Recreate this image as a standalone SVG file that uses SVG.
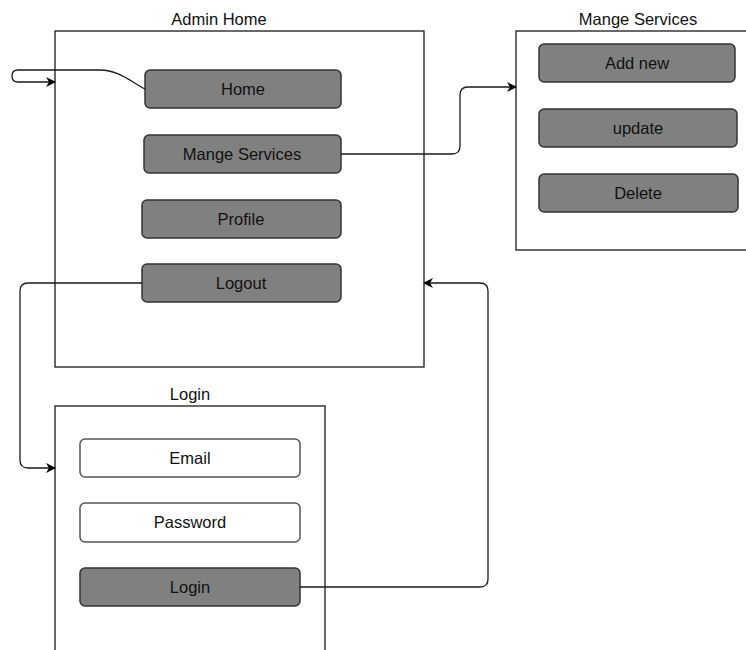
<svg xmlns="http://www.w3.org/2000/svg" width="746" height="650" viewBox="0 0 746 650">
<defs>
<marker id="arr" viewBox="0 0 10 10" refX="9" refY="5" markerWidth="10" markerHeight="10" markerUnits="userSpaceOnUse" orient="auto">
<path d="M0,0 L10,5 L0,10 L3,5 Z" fill="#000"/>
</marker>
</defs>
<style>
.cont{fill:#fff;stroke:#1a1a1a;stroke-width:1.3}
.btn{fill:#808080;stroke:#333;stroke-width:1.5}
.fld{fill:#fff;stroke:#555;stroke-width:1.5}
text{font-family:"Liberation Sans",Arial,sans-serif;font-size:16.5px;fill:#111;text-anchor:middle}
.edge{fill:none;stroke:#1a1a1a;stroke-width:1.3}
</style>
<rect width="746" height="650" fill="#fff"/>
<g id="admin-home">
<rect class="cont" x="55" y="31" width="369" height="336"/>
<text x="219" y="25">Admin Home</text>
</g>
<g id="home"><rect class="btn" x="145" y="70" width="196" height="38" rx="5"/><text x="243" y="95">Home</text></g>
<g id="mange-services-btn"><rect class="btn" x="144" y="135" width="197" height="38" rx="5"/><text x="242" y="160">Mange Services</text></g>
<g id="profile"><rect class="btn" x="142" y="200" width="199" height="38" rx="5"/><text x="241" y="225">Profile</text></g>
<g id="logout"><rect class="btn" x="142" y="264" width="199" height="38" rx="5"/><text x="241" y="289">Logout</text></g>

<g id="mange-services">
<rect class="cont" x="516" y="31" width="236" height="219"/>
<text x="638" y="25">Mange Services</text>
</g>
<g id="add-new"><rect class="btn" x="539" y="44" width="196" height="38" rx="5"/><text x="637" y="69">Add new</text></g>
<g id="update"><rect class="btn" x="539" y="109" width="198" height="38" rx="5"/><text x="638" y="134">update</text></g>
<g id="delete"><rect class="btn" x="539" y="174" width="199" height="38" rx="5"/><text x="638" y="199">Delete</text></g>

<g id="login">
<rect class="cont" x="55" y="406" width="270" height="260"/>
<text x="190" y="400">Login</text>
</g>
<g id="email"><rect class="fld" x="80" y="439" width="220" height="38" rx="5"/><text x="190" y="464">Email</text></g>
<g id="password"><rect class="fld" x="80" y="503" width="220" height="39" rx="5"/><text x="190" y="528">Password</text></g>
<g id="login-btn"><rect class="btn" x="80" y="568" width="220" height="38" rx="5"/><text x="190" y="593">Login</text></g>

<g id="connectors">
<path class="edge" d="M145,89 C130,81 118,70 100,70 L18,70 Q12,70 12,76 Q12,82 18,82 L55,82" marker-end="url(#arr)"/>
<path class="edge" d="M341,154 L452,154 Q460,154 460,146 L460,95 Q460,87 468,87 L516,87" marker-end="url(#arr)"/>
<path class="edge" d="M142,283 L28,283 Q20,283 20,291 L20,460 Q20,468 28,468 L55,468" marker-end="url(#arr)"/>
<path class="edge" d="M300,587 L480,587 Q488,587 488,579 L488,291 Q488,283 480,283 L424,283" marker-end="url(#arr)"/>
</g>
</svg>
